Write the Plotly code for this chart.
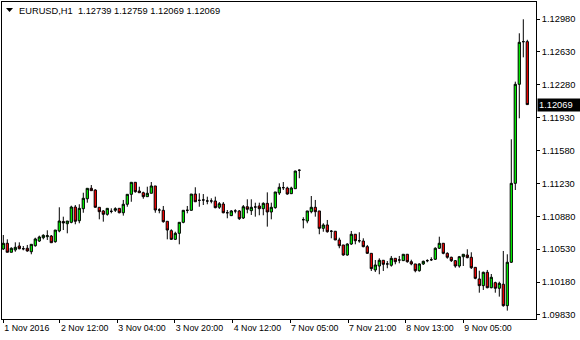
import plotly.graph_objects as go

symbol = "EURUSD,H1"

opens = [1.10532, 1.10593, 1.10497, 1.10522, 1.10564, 1.10535, 1.10540, 1.10503, 1.10567, 1.10617,
         1.10652, 1.10663, 1.10670, 1.10610, 1.10724, 1.10825, 1.10801, 1.10816, 1.10979, 1.10833,
         1.10961, 1.11067, 1.11178, 1.11160, 1.10976, 1.10937, 1.10901, 1.10933, 1.10944, 1.10965,
         1.10918, 1.11008, 1.11114, 1.11242, 1.11149, 1.11131, 1.11089, 1.11125, 1.11203, 1.10947,
         1.10944, 1.10827, 1.10727, 1.10635, 1.10699, 1.10816, 1.10944, 1.10944, 1.11117, 1.11050,
         1.11054, 1.11043, 1.11043, 1.11043, 1.10976, 1.11011, 1.10918, 1.10887, 1.10937, 1.10937,
         1.10862, 1.10982, 1.10940, 1.10979, 1.10990, 1.10961, 1.11018, 1.10926, 1.10972, 1.11128,
         1.11185, 1.11181, 1.11121, 1.11174, 1.11370, 1.10844, 1.10830, 1.10929, 1.10976, 1.10937,
         1.10752, 1.10788, 1.10721, 1.10721, 1.10628, 1.10575, 1.10468, 1.10585, 1.10689, 1.10620,
         1.10617, 1.10557, 1.10486, 1.10309, 1.10351, 1.10412, 1.10373, 1.10359, 1.10433, 1.10415,
         1.10408, 1.10476, 1.10397, 1.10373, 1.10301, 1.10373, 1.10408, 1.10418, 1.10423, 1.10540,
         1.10593, 1.10486, 1.10444, 1.10408, 1.10351, 1.10450, 1.10468, 1.10444, 1.10337, 1.10213,
         1.10142, 1.10284, 1.10120, 1.10174, 1.10114, 1.10157, 1.09929, 1.10391, 1.11231, 1.12285,
         1.12739, 1.12739]

highs = [1.10681, 1.10635, 1.10550, 1.10603, 1.10603, 1.10564, 1.10575, 1.10582, 1.10652, 1.10674,
         1.10689, 1.10731, 1.10681, 1.10734, 1.10976, 1.10876, 1.10830, 1.10993, 1.11000, 1.11008,
         1.11131, 1.11178, 1.11213, 1.11168, 1.10976, 1.10947, 1.10965, 1.10965, 1.10976, 1.10965,
         1.11054, 1.11114, 1.11242, 1.11242, 1.11195, 1.11142, 1.11195, 1.11245, 1.11203, 1.10965,
         1.10990, 1.10827, 1.10742, 1.10716, 1.10816, 1.10944, 1.10990, 1.11117, 1.11189, 1.11125,
         1.11117, 1.11089, 1.11072, 1.11089, 1.11032, 1.11032, 1.10947, 1.10947, 1.10955, 1.10947,
         1.11000, 1.11061, 1.11061, 1.11025, 1.11025, 1.11029, 1.11135, 1.11025, 1.11139, 1.11231,
         1.11245, 1.11195, 1.11195, 1.11365, 1.11380, 1.10870, 1.10937, 1.11096, 1.11054, 1.10937,
         1.10806, 1.10841, 1.10734, 1.10721, 1.10652, 1.10575, 1.10593, 1.10724, 1.10689, 1.10710,
         1.10646, 1.10575, 1.10486, 1.10415, 1.10433, 1.10415, 1.10404, 1.10458, 1.10433, 1.10458,
         1.10476, 1.10476, 1.10418, 1.10373, 1.10380, 1.10408, 1.10423, 1.10444, 1.10550, 1.10663,
         1.10593, 1.10497, 1.10450, 1.10415, 1.10458, 1.10476, 1.10529, 1.10497, 1.10337, 1.10301,
         1.10291, 1.10309, 1.10266, 1.10184, 1.10184, 1.10511, 1.10476, 1.11700, 1.12313, 1.12828,
         1.12977, 1.12759]

lows = [1.10522, 1.10497, 1.10497, 1.10503, 1.10529, 1.10518, 1.10503, 1.10476, 1.10557, 1.10607,
        1.10635, 1.10628, 1.10599, 1.10599, 1.10710, 1.10734, 1.10699, 1.10806, 1.10795, 1.10806,
        1.10918, 1.11025, 1.11153, 1.10972, 1.10848, 1.10823, 1.10887, 1.10912, 1.10926, 1.10912,
        1.10887, 1.10982, 1.11035, 1.11131, 1.11131, 1.11067, 1.11089, 1.11125, 1.10918, 1.10912,
        1.10812, 1.10635, 1.10628, 1.10628, 1.10582, 1.10806, 1.10912, 1.10940, 1.11035, 1.10982,
        1.11000, 1.11008, 1.11018, 1.10965, 1.10958, 1.10912, 1.10859, 1.10883, 1.10912, 1.10841,
        1.10851, 1.10912, 1.10894, 1.10876, 1.10891, 1.10891, 1.10770, 1.10848, 1.10961, 1.11107,
        1.11160, 1.11110, 1.11117, 1.11174, 1.11285, 1.10752, 1.10806, 1.10912, 1.10876, 1.10689,
        1.10716, 1.10706, 1.10646, 1.10628, 1.10540, 1.10461, 1.10461, 1.10575, 1.10582, 1.10599,
        1.10550, 1.10479, 1.10298, 1.10287, 1.10263, 1.10298, 1.10327, 1.10344, 1.10369, 1.10380,
        1.10404, 1.10386, 1.10359, 1.10284, 1.10291, 1.10362, 1.10391, 1.10404, 1.10415, 1.10532,
        1.10476, 1.10429, 1.10394, 1.10333, 1.10333, 1.10351, 1.10433, 1.10319, 1.10210, 1.10067,
        1.10096, 1.10114, 1.10114, 1.10067, 1.10025, 1.09918, 1.09876, 1.10383, 1.11160, 1.11923,
        1.12572, 1.12069]

closes = [1.10593, 1.10497, 1.10540, 1.10550, 1.10535, 1.10535, 1.10511, 1.10582, 1.10639, 1.10660,
          1.10678, 1.10674, 1.10599, 1.10734, 1.10830, 1.10809, 1.10830, 1.10979, 1.10827, 1.10965,
          1.11072, 1.11178, 1.11153, 1.10976, 1.10929, 1.10901, 1.10965, 1.10933, 1.10961, 1.10918,
          1.11008, 1.11114, 1.11242, 1.11142, 1.11131, 1.11089, 1.11125, 1.11203, 1.10947, 1.10947,
          1.10823, 1.10734, 1.10635, 1.10699, 1.10816, 1.10944, 1.10944, 1.11117, 1.11035, 1.11050,
          1.11054, 1.11043, 1.11043, 1.10972, 1.11014, 1.10918, 1.10918, 1.10937, 1.10937, 1.10855,
          1.10982, 1.10955, 1.10976, 1.10979, 1.10961, 1.11018, 1.10926, 1.10976, 1.11139, 1.11189,
          1.11185, 1.11117, 1.11181, 1.11362, 1.11370, 1.10844, 1.10937, 1.10976, 1.10929, 1.10752,
          1.10788, 1.10716, 1.10721, 1.10628, 1.10567, 1.10468, 1.10585, 1.10689, 1.10620, 1.10620,
          1.10557, 1.10486, 1.10323, 1.10362, 1.10412, 1.10369, 1.10373, 1.10433, 1.10397, 1.10415,
          1.10476, 1.10397, 1.10373, 1.10301, 1.10373, 1.10401, 1.10408, 1.10418, 1.10540, 1.10593,
          1.10486, 1.10444, 1.10408, 1.10351, 1.10450, 1.10476, 1.10440, 1.10333, 1.10220, 1.10142,
          1.10284, 1.10120, 1.10231, 1.10114, 1.10167, 1.09929, 1.10391, 1.11231, 1.12285, 1.12732,
          1.12739, 1.12069]

x_tick_pos = [0, 14.17, 28.5, 42.85, 57.35, 71.675, 86.175, 100.5, 115]
x_tick_labels = ["1 Nov 2016", "2 Nov 12:00", "3 Nov 04:00", "3 Nov 20:00", "4 Nov 12:00",
                 "7 Nov 05:00", "7 Nov 21:00", "8 Nov 13:00", "9 Nov 05:00"]
y_ticks = [1.09830, 1.10180, 1.10530, 1.10880, 1.11230, 1.11580, 1.11930, 1.12280, 1.12630, 1.12980]
last_price = closes[-1]

bars = list(range(len(opens)))

FONT = dict(family="Liberation Sans, Arial, sans-serif", size=9.3, color="black")
XFONT = dict(family="Liberation Sans, Arial, sans-serif", size=8.8, color="black")

fig = go.Figure(go.Candlestick(
    x=bars, open=opens, high=highs, low=lows, close=closes,
    increasing=dict(fillcolor="#00ff00", line=dict(color="black", width=1)),
    decreasing=dict(fillcolor="#ff0000", line=dict(color="black", width=1)),
    whiskerwidth=0, hoverinfo="skip", showlegend=False,
))

W, H = 580, 340
ml, mr, mt, mb = 2, 44, 2, 21
pw = W - ml - mr
ph = H - mt - mb

fig.update_layout(
    width=W, height=H,
    margin=dict(l=ml, r=mr, t=mt, b=mb, pad=0),
    paper_bgcolor="white", plot_bgcolor="white",
    boxgap=0.2,
    font=FONT,
    showlegend=False,
    xaxis=dict(
        range=[-0.325, 133.175], rangeslider=dict(visible=False),
        showgrid=False, zeroline=False,
        showline=True, linecolor="black", linewidth=1, mirror=True,
        tickmode="array", tickvals=x_tick_pos, ticktext=x_tick_labels,
        ticks="outside", ticklen=3, tickcolor="black", tickwidth=1,
        ticklabelposition="outside right", tickangle=0,
        tickfont=XFONT, fixedrange=True,
    ),
    yaxis=dict(
        range=[1.09787, 1.13161], side="right",
        showgrid=False, zeroline=False,
        showline=True, linecolor="black", linewidth=1, mirror=True,
        tickmode="array", tickvals=y_ticks, tickformat=".5f",
        ticks="outside", ticklen=3, tickcolor="black", tickwidth=1,
        tickfont=FONT, fixedrange=True,
    ),
)

def px(x):
    return (x - ml) / pw

def py(y):
    return 1 - (y - mt) / ph

fig.add_shape(type="path", xref="paper", yref="paper",
              path=f"M {px(6)} {py(8)} L {px(13)} {py(8)} L {px(9.5)} {py(12)} Z",
              fillcolor="black", line=dict(color="black", width=0))

header = f"{symbol}\u00a0\u00a0{opens[-1]:.5f} {highs[-1]:.5f} {lows[-1]:.5f} {closes[-1]:.5f}"
fig.add_annotation(text=header, xref="paper", yref="paper", x=px(17), y=py(10.5),
                   xanchor="left", yanchor="middle", showarrow=False, font=FONT)

fig.add_annotation(text=f"{last_price:.5f}", xref="paper", yref="y", x=1, y=last_price,
                   xanchor="left", yanchor="middle", xshift=1, showarrow=False,
                   bgcolor="black", borderpad=1, font=dict(family=FONT["family"], size=9.3, color="white"),
                   width=40, align="left")

fig.write_html("out.html")
